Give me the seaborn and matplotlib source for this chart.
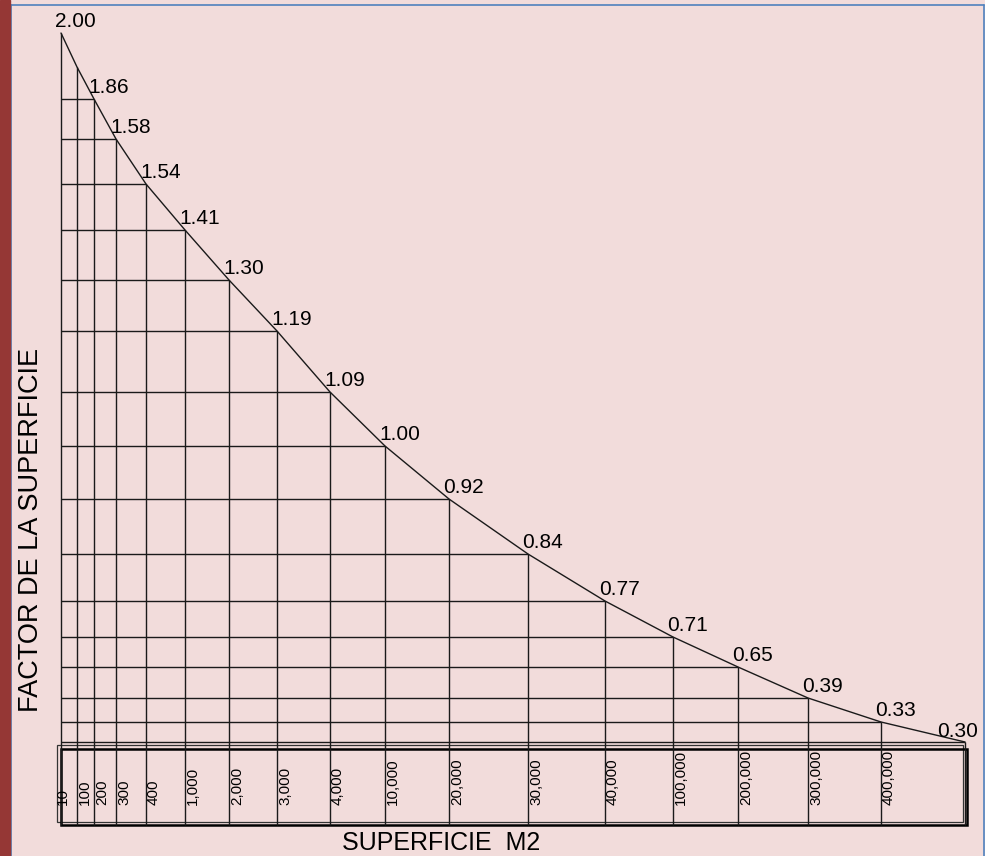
import matplotlib
matplotlib.use("Agg")
import matplotlib.pyplot as plt
from matplotlib.patches import Rectangle
from matplotlib.lines import Line2D
import numpy as np
import pandas as pd
import seaborn as sns

# nodes of the drawn curve (drawing units, origin at lower-left of the grid)
area_labels = ["10", "100", "200", "300", "400", "1,000", "2,000", "3,000", "4,000",
               "10,000", "20,000", "30,000", "40,000", "100,000", "200,000",
               "300,000", "400,000", ""]
x_pos = [0, 16, 33, 55, 85, 124, 168, 216, 269, 324, 388, 467, 544, 612, 677, 747, 820, 904]
height = [709, 675, 643, 603, 558, 512, 462, 411, 350, 296, 243, 188, 141, 105, 75, 44, 20, 0]
factor_labels = ["2.00", "", "1.86", "1.58", "1.54", "1.41", "1.30", "1.19", "1.09", "1.00",
                 "0.92", "0.84", "0.77", "0.71", "0.65", "0.39", "0.33", "0.30"]

df = pd.DataFrame({"x": x_pos, "h": height, "area": area_labels, "factor": factor_labels})

sns.set_theme(style="white")
plt.rcParams["font.family"] = ["Liberation Sans", "DejaVu Sans"]

bg = "#f2dcdb"
ink = "#1a1a1a"

fig = plt.figure(figsize=(9.85, 8.56), dpi=100, facecolor=bg)
ax = fig.add_axes([0, 0, 1, 1])
ax.set_facecolor(bg)
ax.set_xlim(-61, 924)
ax.set_ylim(-114, 742)
ax.axis("off")

box_bottom = -83

# vertical grid lines from each node down through the label box
ax.vlines(df["x"], box_bottom, df["h"], color=ink, lw=1.0)
# horizontal grid lines back to the axis for labelled nodes
lab = df[df["factor"] != ""]
ax.hlines(lab["h"], 0, lab["x"], color=ink, lw=1.0)

# curve
sns.lineplot(data=df, x="x", y="h", ax=ax, color=ink, lw=1.0, sort=False, legend=False)

# label boxes (double frame)
ax.add_patch(Rectangle((-4, -80), 906, 77, fill=False, ec="#333333", lw=0.9))
ax.add_patch(Rectangle((0, -83), 906, 76, fill=False, ec="black", lw=1.8))

# value labels
for i, r in df.iterrows():
    if not r["factor"]:
        continue
    if i == len(df) - 1:
        ax.text(r["x"] + 13, r["h"] + 5, r["factor"], fontsize=15, ha="right",
                va="baseline", color="black")
    else:
        ax.text(r["x"] - 6, r["h"] + 6, r["factor"], fontsize=15, ha="left",
                va="baseline", color="black")

# area labels in the box
for i, r in df.iterrows():
    if not r["area"]:
        continue
    off = 2 if i == 0 else 8
    ax.text(r["x"] + off, -63, r["area"], fontsize=11, rotation=90, ha="center",
            va="bottom", color="black")

ax.text(-30, 212, "FACTOR DE LA SUPERFICIE", fontsize=19.5, rotation=90,
        ha="center", va="center", color="black")
ax.text(380, -101, "SUPERFICIE  M2", fontsize=18, ha="center", va="center", color="black")

# page frame
W, H = 985, 856
fig.patches.append(Rectangle((0, 0), 10 / W, 1, transform=fig.transFigure,
                             color="#953735", zorder=10))
fig.lines.append(Line2D([10.5 / W, 10.5 / W], [0, 1 - 5 / H], transform=fig.transFigure,
                        color="#4f81bd", lw=1.2))
fig.lines.append(Line2D([10 / W, 983.5 / W], [1 - 5 / H, 1 - 5 / H], transform=fig.transFigure,
                        color="#4f81bd", lw=1.2))
fig.lines.append(Line2D([983.5 / W, 983.5 / W], [0, 1 - 5 / H], transform=fig.transFigure,
                        color="#4f81bd", lw=1.2))

fig.savefig("out.png", dpi=100, facecolor=bg)
